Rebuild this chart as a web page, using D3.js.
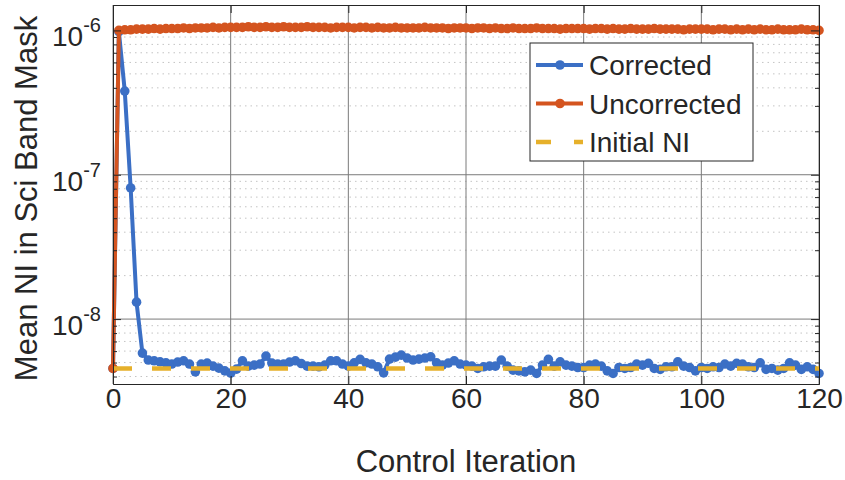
<!DOCTYPE html>
<html>
<head>
<meta charset="utf-8">
<script src="https://cdn.jsdelivr.net/npm/d3@7"></script>
<style>
body { margin: 0; background: #fff; }
text { font-family: "Liberation Sans", Arial, sans-serif; fill: #262626; }
</style>
</head>
<body>
<div id="chart"></div>
<script>
// values are in units of 1e-9
const NI_UNIT = 1e-9;
const iterations = d3.range(0, 121);

const corrected = [
    4.55, 980, 380, 81, 13.1, 5.81, 5.20, 5.14, 5.06, 4.98,
    4.88, 5.04, 5.14, 4.88, 4.31, 4.88, 4.96, 4.72, 4.57, 4.38,
    4.22, 4.50, 5.14, 4.72, 4.80, 4.88, 5.54, 4.96, 4.88, 4.88,
    5.04, 5.14, 4.92, 4.72, 4.72, 4.67, 4.80, 5.14, 5.14, 4.88,
    4.72, 4.98, 5.26, 4.98, 4.88, 4.67, 4.24, 5.28, 5.45, 5.63,
    5.37, 5.20, 5.28, 5.37, 5.48, 4.98, 4.80, 4.96, 5.14, 4.88,
    4.80, 4.72, 4.55, 4.67, 4.72, 4.72, 5.20, 4.72, 4.43, 4.38,
    4.31, 4.43, 4.20, 4.80, 5.26, 4.72, 5.06, 4.80, 4.72, 4.62,
    4.62, 4.80, 4.88, 4.72, 4.38, 4.20, 4.62, 4.55, 4.62, 4.88,
    4.80, 4.94, 4.55, 4.48, 4.67, 4.67, 5.06, 4.72, 4.62, 4.38,
    4.62, 4.55, 4.67, 4.62, 4.88, 4.72, 4.94, 4.88, 4.67, 4.62,
    4.98, 4.48, 4.55, 4.43, 4.55, 4.98, 4.80, 4.48, 4.67, 4.48,
    4.20
];

const uncorrected = [
    4.55, 1000, 1010, 1010, 1020, 1020, 1020, 1030, 1020, 1030,
    1030, 1030, 1040, 1030, 1040, 1040, 1040, 1050, 1040, 1050,
    1050, 1050, 1050, 1060, 1050, 1050, 1060, 1050, 1050, 1060,
    1050, 1050, 1050, 1060, 1050, 1050, 1050, 1040, 1050, 1050,
    1050, 1040, 1050, 1050, 1040, 1050, 1040, 1040, 1050, 1040,
    1040, 1040, 1040, 1050, 1040, 1040, 1040, 1030, 1040, 1040,
    1040, 1030, 1040, 1040, 1030, 1040, 1030, 1030, 1040, 1030,
    1030, 1030, 1040, 1030, 1030, 1030, 1020, 1030, 1030, 1030,
    1030, 1020, 1030, 1030, 1020, 1030, 1020, 1020, 1030, 1020,
    1020, 1020, 1030, 1020, 1020, 1020, 1020, 1010, 1020, 1020,
    1020, 1020, 1010, 1020, 1020, 1010, 1020, 1010, 1020, 1010,
    1020, 1010, 1010, 1020, 1010, 1010, 1010, 1020, 1010, 1010,
    1000
];

const initialNI = 4.55;

const xTicks = [0, 20, 40, 60, 80, 100, 120];
const yTicks = [-8, -7, -6]; // exponents
const legendLabels = ["Corrected", "Uncorrected", "Initial NI"];

const colors = { corrected: "#3b6fc5", uncorrected: "#d4541f", initial: "#e6b02a" };

const width = 845;
const height = 480;
const margin = { top: 5, right: 26, bottom: 96, left: 113 };

const svg = d3.select("#chart")
    .append("svg")
    .attr("width", width)
    .attr("height", height);

const xScale = d3.scaleLinear()
    .domain([0, 120])
    .range([margin.left, width - margin.right]);

const yScale = d3.scaleLog()
    .domain([3.55e-9, 1.5e-6])
    .range([height - margin.bottom, margin.top]);

// minor log positions inside the domain
const minorY = [];
[-9, -8, -7].forEach(e => {
    for (let m = 2; m <= 9; m++) {
        const v = m * Math.pow(10, e);
        if (v > yScale.domain()[0] && v < yScale.domain()[1]) minorY.push(v);
    }
});

// Grid
svg.append("g")
    .selectAll("line")
    .data(minorY)
    .join("line")
    .attr("x1", margin.left)
    .attr("x2", width - margin.right)
    .attr("y1", d => yScale(d))
    .attr("y2", d => yScale(d))
    .attr("stroke", "#c4c4c4")
    .attr("stroke-width", 1)
    .attr("stroke-dasharray", "1.5,4");

svg.append("g")
    .selectAll("line")
    .data(yTicks)
    .join("line")
    .attr("x1", margin.left)
    .attr("x2", width - margin.right)
    .attr("y1", d => yScale(Math.pow(10, d)))
    .attr("y2", d => yScale(Math.pow(10, d)))
    .attr("stroke", "#7a7a7a")
    .attr("stroke-width", 1);

svg.append("g")
    .selectAll("line")
    .data(xTicks)
    .join("line")
    .attr("x1", d => xScale(d))
    .attr("x2", d => xScale(d))
    .attr("y1", margin.top)
    .attr("y2", height - margin.bottom)
    .attr("stroke", "#7a7a7a")
    .attr("stroke-width", 1);

// Series
const pts = vals => iterations.map((it, i) => ({ x: it, y: vals[i] * NI_UNIT }));
const line = d3.line()
    .x(d => xScale(d.x))
    .y(d => yScale(d.y));

function drawSeries(data, color) {
    svg.append("path")
        .datum(data)
        .attr("fill", "none")
        .attr("stroke", color)
        .attr("stroke-width", 4)
        .attr("stroke-linejoin", "round")
        .attr("d", line);
    svg.append("g")
        .selectAll("circle")
        .data(data)
        .join("circle")
        .attr("cx", d => xScale(d.x))
        .attr("cy", d => yScale(d.y))
        .attr("r", 4.8)
        .attr("fill", color);
}

drawSeries(pts(corrected), colors.corrected);
drawSeries(pts(uncorrected), colors.uncorrected);

svg.append("path")
    .datum([{ x: 0, y: initialNI * NI_UNIT }, { x: 120, y: initialNI * NI_UNIT }])
    .attr("fill", "none")
    .attr("stroke", colors.initial)
    .attr("stroke-width", 4.5)
    .attr("stroke-dasharray", "19,20")
    .attr("d", line);

// Axes (ticks point inward)
const axisColor = "#262626";
function styleAxis(g) {
    g.select(".domain").attr("stroke", axisColor);
    g.selectAll(".tick line").attr("stroke", axisColor);
}

const xAxis = svg.append("g")
    .attr("transform", `translate(0, ${height - margin.bottom})`)
    .call(d3.axisBottom(xScale).tickValues(xTicks).tickSize(-8).tickSizeOuter(0))
    .call(styleAxis);
xAxis.selectAll("text")
    .attr("font-size", 28)
    .attr("fill", "#262626")
    .attr("y", 24)
    .attr("dy", 0);

svg.append("g")
    .attr("transform", `translate(0, ${margin.top})`)
    .call(d3.axisTop(xScale).tickValues(xTicks).tickSize(-8).tickSizeOuter(0).tickFormat(""))
    .call(styleAxis);

const yAxis = svg.append("g")
    .attr("transform", `translate(${margin.left}, 0)`)
    .call(d3.axisLeft(yScale).tickValues(yTicks.map(e => Math.pow(10, e))).tickSize(-8).tickSizeOuter(0).tickFormat(""))
    .call(styleAxis);

yAxis.selectAll(".tick text").each(function(d) {
    const t = d3.select(this)
        .attr("font-size", 28)
        .attr("fill", "#262626")
        .attr("x", -12)
        .attr("dy", "0.55em");
    t.append("tspan").text("10");
    t.append("tspan").attr("font-size", 20).attr("dy", "-0.7em").text(Math.round(Math.log10(d)));
});

svg.append("g")
    .attr("transform", `translate(${margin.left}, 0)`)
    .call(d3.axisLeft(yScale).tickValues(minorY).tickSize(-4).tickSizeOuter(0).tickFormat(""))
    .call(styleAxis);

svg.append("g")
    .attr("transform", `translate(${width - margin.right}, 0)`)
    .call(d3.axisRight(yScale).tickValues(yTicks.map(e => Math.pow(10, e))).tickSize(-8).tickSizeOuter(0).tickFormat(""))
    .call(styleAxis);

svg.append("g")
    .attr("transform", `translate(${width - margin.right}, 0)`)
    .call(d3.axisRight(yScale).tickValues(minorY).tickSize(-4).tickSizeOuter(0).tickFormat(""))
    .call(styleAxis);

// Axis labels
svg.append("text")
    .attr("x", (margin.left + width - margin.right) / 2)
    .attr("y", 472)
    .attr("text-anchor", "middle")
    .attr("font-size", 31)
    .text("Control Iteration");

svg.append("text")
    .attr("transform", `translate(37, ${(margin.top + height - margin.bottom) / 2 + 4}) rotate(-90)`)
    .attr("text-anchor", "middle")
    .attr("font-size", 31)
    .text("Mean NI in Sci Band Mask");

// Legend
function drawLegend() {
    const lx = 530, ly = 43, lw = 223, lh = 118;
    const g = svg.append("g");
    g.append("rect")
        .attr("x", lx).attr("y", ly)
        .attr("width", lw).attr("height", lh)
        .attr("fill", "#fff")
        .attr("stroke", axisColor)
        .attr("stroke-width", 1);

    const items = [
        { color: colors.corrected, marker: true },
        { color: colors.uncorrected, marker: true },
        { color: colors.initial, marker: false }
    ];
    items.forEach((item, i) => {
        const y = ly + 22 + i * 38.5;
        if (item.marker) {
            g.append("line")
                .attr("x1", lx + 6).attr("x2", lx + 53)
                .attr("y1", y).attr("y2", y)
                .attr("stroke", item.color).attr("stroke-width", 4);
            g.append("circle")
                .attr("cx", lx + 30).attr("cy", y).attr("r", 4.8)
                .attr("fill", item.color);
        } else {
            g.append("line")
                .attr("x1", lx + 6).attr("x2", lx + 53)
                .attr("y1", y).attr("y2", y)
                .attr("stroke", item.color).attr("stroke-width", 4.5)
                .attr("stroke-dasharray", "15,23");
        }
        g.append("text")
            .attr("x", lx + 59)
            .attr("y", y + 10)
            .attr("font-size", 28)
            .attr("fill", "#000")
            .text(legendLabels[i]);
    });
}

drawLegend();
</script>
</body>
</html>
